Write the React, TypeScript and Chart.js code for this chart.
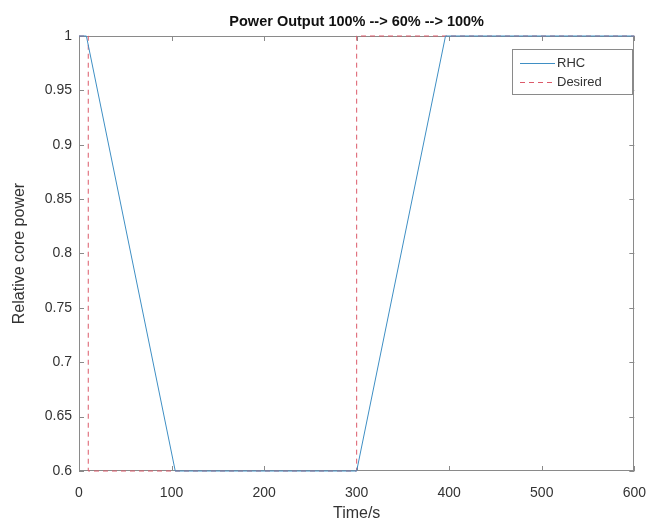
import { useEffect, useRef } from "react";
import { Chart, registerables } from "chart.js";

Chart.register(...registerables);

const timeRHC = [0, 8, 104, 300, 396, 600];
const powerRHC = [1, 1, 0.6, 0.6, 1, 1];
const timeDesired = [0, 10, 10, 300, 300, 600];
const powerDesired = [1, 1, 0.6, 0.6, 1, 1];
const xTicks = [0, 100, 200, 300, 400, 500, 600];
const yTicks = [0.6, 0.65, 0.7, 0.75, 0.8, 0.85, 0.9, 0.95, 1];
const seriesNames = ["RHC", "Desired"];
const titleText = "Power Output 100% --> 60% --> 100%";
const xLabel = "Time/s";
const yLabel = "Relative core power";

const FONT = "'Liberation Sans', Arial, Helvetica, sans-serif";
const TEXT = "#333333";
const AXIS = "#8a8a8a";
const BLUE = "#3f8fc4";
const RED = "#dc5a6a";
const seriesColors = [BLUE, RED];
const seriesDashes = [[], [5, 4]];

const decorPlugin = {
  id: "matlabDecor",
  beforeDatasetsDraw(chart: any) {
    const { ctx, chartArea: a, scales } = chart;
    const xs = scales.x;
    const ys = scales.y;
    ctx.save();
    ctx.strokeStyle = AXIS;
    ctx.lineWidth = 1;
    ctx.setLineDash([]);
    ctx.strokeRect(Math.round(a.left) + 0.5, Math.round(a.top) + 0.5, Math.round(a.right - a.left) - 1, Math.round(a.bottom - a.top) - 1);
    const tl = 5;
    ctx.beginPath();
    xTicks.forEach((v) => {
      const px = Math.round(xs.getPixelForValue(v)) + 0.5;
      ctx.moveTo(px, a.bottom);
      ctx.lineTo(px, a.bottom - tl);
      ctx.moveTo(px, a.top);
      ctx.lineTo(px, a.top + tl);
    });
    yTicks.forEach((v) => {
      const py = Math.round(ys.getPixelForValue(v)) + 0.5;
      ctx.moveTo(a.left, py);
      ctx.lineTo(a.left + tl, py);
      ctx.moveTo(a.right, py);
      ctx.lineTo(a.right - tl, py);
    });
    ctx.stroke();
    ctx.restore();
  },
  afterDatasetsDraw(chart: any) {
    const { ctx, chartArea: a } = chart;
    ctx.save();
    ctx.fillStyle = "#111111";
    ctx.font = `bold 14.5px ${FONT}`;
    ctx.textAlign = "center";
    ctx.textBaseline = "middle";
    ctx.fillText(titleText, (a.left + a.right) / 2, 22);

    const lx = 512, ly = 49, lw = 121, lh = 46;
    ctx.fillStyle = "#ffffff";
    ctx.fillRect(lx, ly, lw, lh);
    ctx.strokeStyle = AXIS;
    ctx.lineWidth = 1;
    ctx.strokeRect(lx + 0.5, ly + 0.5, lw - 1, lh - 1);
    ctx.font = `13px ${FONT}`;
    ctx.textAlign = "left";
    ctx.textBaseline = "middle";
    seriesNames.forEach((name, i) => {
      const yy = ly + 14 + i * 19;
      ctx.beginPath();
      ctx.strokeStyle = seriesColors[i];
      ctx.lineWidth = 1;
      ctx.setLineDash(seriesDashes[i]);
      ctx.moveTo(lx + 8, yy + 0.5);
      ctx.lineTo(lx + 43, yy + 0.5);
      ctx.stroke();
      ctx.setLineDash([]);
      ctx.fillStyle = TEXT;
      ctx.fillText(name, lx + 45, yy);
    });
    ctx.restore();
  },
};

export default function App() {
  const ref = useRef<HTMLCanvasElement>(null);
  useEffect(() => {
    const canvas = ref.current!;
    const chart = new Chart(canvas, {
      type: "line",
      data: {
        datasets: [
          {
            label: seriesNames[0],
            data: timeRHC.map((t, i) => ({ x: t, y: powerRHC[i] })),
            borderColor: BLUE,
            borderWidth: 1,
            pointRadius: 0,
            tension: 0,
            fill: false,
            clip: false,
          },
          {
            label: seriesNames[1],
            data: timeDesired.map((t, i) => ({ x: t, y: powerDesired[i] })),
            borderColor: RED,
            borderWidth: 1,
            borderDash: [5, 4],
            pointRadius: 0,
            tension: 0,
            fill: false,
            clip: false,
          },
        ],
      },
      options: {
        animation: false,
        responsive: false,
        maintainAspectRatio: false,
        layout: { padding: { top: 36, right: 14, left: 0, bottom: 0 } },
        plugins: {
          legend: { display: false },
          title: { display: false },
          tooltip: { enabled: false },
        },
        scales: {
          x: {
            type: "linear",
            min: 0,
            max: 600,
            grid: { display: false, drawTicks: false },
            border: { display: false },
            afterBuildTicks: (s: any) => {
              s.ticks = xTicks.map((v) => ({ value: v }));
            },
            afterFit: (s: any) => {
              s.height = 52;
            },
            ticks: {
              color: TEXT,
              font: { family: FONT, size: 14 },
              padding: 14,
              maxRotation: 0,
              autoSkip: false,
            },
            title: {
              display: true,
              text: xLabel,
              color: TEXT,
              font: { family: FONT, size: 16 },
              padding: { top: 0, bottom: 0 },
            },
          },
          y: {
            type: "linear",
            min: 0.6,
            max: 1,
            grid: { display: false, drawTicks: false },
            border: { display: false },
            afterBuildTicks: (s: any) => {
              s.ticks = yTicks.map((v) => ({ value: v }));
            },
            afterFit: (s: any) => {
              s.width = 79;
            },
            ticks: {
              color: TEXT,
              font: { family: FONT, size: 14 },
              padding: 7,
              autoSkip: false,
              callback: (v: any) => String(Math.round(Number(v) * 100) / 100),
            },
            title: {
              display: true,
              text: yLabel,
              color: TEXT,
              font: { family: FONT, size: 16 },
              padding: { top: 10, bottom: 0 },
            },
          },
        },
      },
      plugins: [decorPlugin],
    } as any);
    return () => chart.destroy();
  }, []);
  return (
    <div style={{ position: "fixed", left: 0, top: 0, width: 660, height: 523, background: "#fff" }}>
      <canvas ref={ref} width={660} height={523} style={{ width: 660, height: 523, display: "block" }} />
    </div>
  );
}
